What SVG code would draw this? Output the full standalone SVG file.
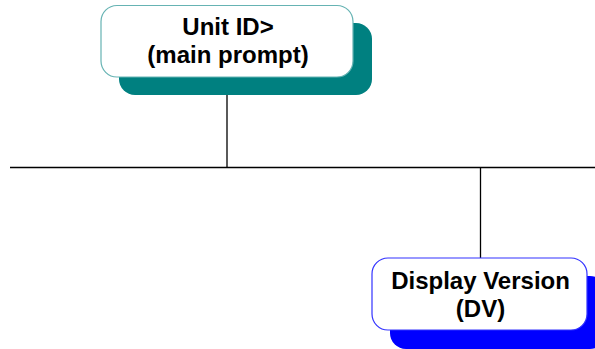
<svg xmlns="http://www.w3.org/2000/svg" width="595" height="349" viewBox="0 0 595 349">
<style>
.lbl{font-family:"Liberation Sans",Arial,sans-serif;font-weight:bold;font-size:24px;fill:#000;text-anchor:middle}
.conn{stroke:#000;stroke-width:1.3;fill:none}
.box{fill:#fff;stroke-width:1.2}
</style>
<rect width="595" height="349" fill="#fff"/>
<g id="connectors">
<line class="conn" x1="227" y1="77" x2="227" y2="167.5"/>
<line class="conn" x1="10" y1="167.5" x2="595" y2="167.5"/>
<line class="conn" x1="480.5" y1="167.5" x2="480.5" y2="258"/>
</g>
<g id="node-unit-id">
<rect x="119" y="23" width="253" height="72" rx="16" fill="#008080"/>
<rect class="box" x="101" y="5.5" width="252" height="71.5" rx="16" stroke="#66B3B3"/>
<text class="lbl" x="228" y="35">Unit ID&gt;</text>
<text class="lbl" x="228" y="63">(main prompt)</text>
</g>
<g id="node-display-version">
<rect x="390" y="276" width="216" height="73" rx="16" fill="#0000FF"/>
<rect class="box" x="372" y="258" width="215" height="72" rx="16" stroke="#3333FF"/>
<text class="lbl" x="480.5" y="288.5">Display Version</text>
<text class="lbl" x="480.5" y="317">(DV)</text>
</g>
</svg>
